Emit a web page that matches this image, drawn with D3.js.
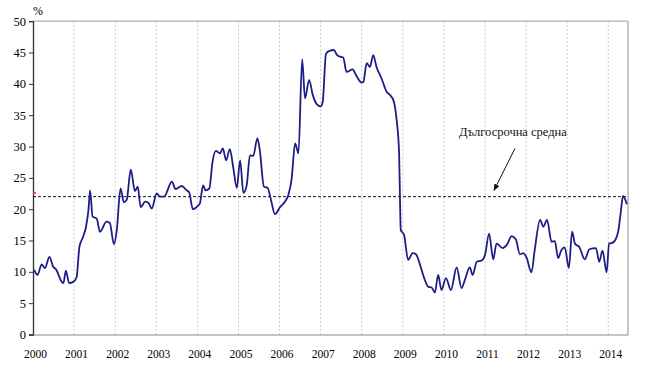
<!DOCTYPE html>
<html>
<head>
<meta charset="utf-8">
<script src="https://cdn.jsdelivr.net/npm/d3@7"></script>
<style>
  html, body { margin: 0; padding: 0; background: #fff; }
  svg { display: block; }
</style>
</head>
<body>
<svg id="chart" width="645" height="375"></svg>
<script>
// ---- data (decimal year, value in %) ----
const times = [
  2000.03, 2000.11, 2000.21, 2000.29, 2000.40, 2000.49, 2000.56, 2000.70, 2000.74, 2000.80,
  2000.88, 2000.98, 2001.06, 2001.13, 2001.22, 2001.29, 2001.35, 2001.39, 2001.45, 2001.55,
  2001.63, 2001.79, 2001.87, 2001.97, 2002.04, 2002.13, 2002.21, 2002.28, 2002.38, 2002.48,
  2002.55, 2002.62, 2002.73, 2002.81, 2002.89, 2003.01, 2003.09, 2003.19, 2003.38, 2003.47,
  2003.62, 2003.74, 2003.80, 2003.89, 2004.02, 2004.06, 2004.14, 2004.20, 2004.29, 2004.37,
  2004.45, 2004.55, 2004.62, 2004.70, 2004.79, 2004.87, 2004.96, 2005.04, 2005.12, 2005.20,
  2005.28, 2005.36, 2005.46, 2005.52, 2005.62, 2005.71, 2005.79, 2005.89, 2006.01, 2006.13,
  2006.21, 2006.29, 2006.38, 2006.46, 2006.55, 2006.62, 2006.72, 2006.81, 2006.90, 2007.00,
  2007.05, 2007.13, 2007.23, 2007.32, 2007.40, 2007.49, 2007.55, 2007.63, 2007.78, 2007.86,
  2008.00, 2008.04, 2008.12, 2008.20, 2008.28, 2008.36, 2008.48, 2008.61, 2008.69, 2008.77,
  2008.81, 2008.85, 2008.91, 2008.93, 2008.95, 2009.03, 2009.13, 2009.24, 2009.32, 2009.42,
  2009.51, 2009.62, 2009.70, 2009.78, 2009.86, 2009.94, 2010.05, 2010.17, 2010.31, 2010.43,
  2010.51, 2010.63, 2010.70, 2010.80, 2010.92, 2011.00, 2011.10, 2011.20, 2011.28, 2011.43,
  2011.53, 2011.65, 2011.75, 2011.85, 2011.93, 2012.01, 2012.13, 2012.21, 2012.34, 2012.42,
  2012.51, 2012.62, 2012.70, 2012.78, 2012.86, 2012.94, 2013.04, 2013.12, 2013.19, 2013.29,
  2013.43, 2013.54, 2013.70, 2013.78, 2013.86, 2013.96, 2014.02, 2014.12, 2014.24, 2014.30,
  2014.36, 2014.45
];
const values = [
  10.3, 9.5, 11.2, 10.6, 12.4, 10.8, 10.4, 8.4, 8.2, 10.2,
  8.2, 8.4, 9.1, 14.0, 15.6, 17.2, 19.9, 23.0, 18.8, 18.5,
  16.4, 18.0, 17.8, 14.4, 16.7, 23.3, 21.1, 21.5, 26.3, 22.9,
  23.6, 20.3, 21.2, 21.0, 20.1, 22.5, 22.0, 22.0, 24.4, 23.2,
  23.7, 23.0, 22.7, 20.0, 20.6, 20.9, 23.8, 23.0, 23.3, 27.6,
  29.3, 28.9, 29.7, 27.8, 29.6, 26.8, 23.4, 27.8, 22.6, 23.8,
  28.6, 28.5, 31.3, 29.4, 23.6, 23.4, 21.5, 19.2, 20.3, 21.2,
  22.2, 24.6, 30.5, 28.9, 43.9, 37.7, 40.6, 38.2, 36.8, 36.4,
  37.1, 44.8, 45.3, 45.4, 44.6, 44.3, 44.2, 41.9, 42.3, 41.4,
  40.2, 40.3, 43.3, 42.7, 44.6, 42.7, 40.9, 38.7, 38.2, 37.4,
  36.3, 34.2, 28.9, 22.0, 16.7, 15.9, 11.9, 13.0, 12.8, 11.1,
  9.2, 7.6, 7.5, 6.7, 9.5, 7.1, 9.0, 7.1, 10.7, 7.4,
  8.7, 10.7, 9.5, 11.6, 11.8, 12.7, 16.1, 12.0, 14.5, 13.8,
  14.3, 15.7, 15.2, 12.8, 13.0, 12.3, 9.9, 13.5, 18.3, 17.2,
  18.3, 14.8, 14.9, 12.2, 13.5, 13.9, 10.6, 16.4, 14.5, 14.0,
  12.0, 13.6, 13.8, 11.6, 13.4, 9.9, 14.5, 14.7, 16.4, 19.3,
  22.1, 20.8
];
const longTermMean = 22;
const meanMarker = 22.6;
const yTicks = [0, 5, 10, 15, 20, 25, 30, 35, 40, 45, 50];
const xTicks = [2000, 2001, 2002, 2003, 2004, 2005, 2006, 2007, 2008, 2009, 2010, 2011, 2012, 2013, 2014];
const unitLabel = "%";
const annotationText = "Дългосрочна средна";

// ---- layout ----
const svg = d3.select("#chart");
const plotL = 33, plotR = 628, plotT = 21.2, plotB = 334.5;
const x = d3.scaleLinear().domain([2000, 2014.48]).range([plotL, plotR]);
const y = d3.scaleLinear().domain([0, 50]).range([plotB, plotT]);
const tickFont = "'Liberation Serif', 'Times New Roman', serif";

// vertical dotted gridlines
svg.append("g").selectAll("line")
  .data(xTicks.filter(d => d > 2000))
  .join("line")
  .attr("x1", d => x(d)).attr("x2", d => x(d))
  .attr("y1", plotT).attr("y2", plotB)
  .attr("stroke", "#c9c9c9").attr("stroke-width", 1)
  .attr("stroke-dasharray", "2,2");

// top and right frame
svg.append("line").attr("x1", plotL).attr("x2", plotR).attr("y1", plotT).attr("y2", plotT)
  .attr("stroke", "#b0b0b0").attr("stroke-width", 1.2);
svg.append("line").attr("x1", plotR).attr("x2", plotR).attr("y1", plotT).attr("y2", plotB)
  .attr("stroke", "#a0a0a0").attr("stroke-width", 1.2);

// x axis
const xAxis = d3.axisBottom(x).tickValues(xTicks).tickSize(0).tickFormat(d3.format("d"));
const gx = svg.append("g").attr("transform", `translate(0,${plotB})`).call(xAxis);
gx.select(".domain").attr("stroke", "#8a8a8a").attr("stroke-width", 1.2);
gx.selectAll("text").attr("font-family", tickFont).attr("font-size", 11.5)
  .attr("fill", "#000").attr("dx", 2).attr("dy", 0).attr("y", 23.5);

// y axis
const yAxis = d3.axisLeft(y).tickValues(yTicks).tickSize(4).tickPadding(3).tickFormat(d3.format("d"));
const gy = svg.append("g").attr("transform", `translate(${plotL},0)`).call(yAxis);
gy.select(".domain").attr("stroke", "#333").attr("stroke-width", 1.3);
gy.selectAll(".tick line").attr("stroke", "#333");
gy.selectAll("text").attr("font-family", tickFont).attr("font-size", 12.5).attr("fill", "#000");

// unit label
svg.append("text").attr("x", plotL).attr("y", 15).text(unitLabel)
  .attr("font-family", tickFont).attr("font-size", 12).attr("fill", "#000");

// long-term mean dashed line
svg.append("line")
  .attr("x1", plotL).attr("x2", plotR)
  .attr("y1", y(longTermMean)).attr("y2", y(longTermMean))
  .attr("stroke", "#111").attr("stroke-width", 1).attr("stroke-dasharray", "3,2");

// small magenta marker on the axis
svg.append("line")
  .attr("x1", plotL).attr("x2", plotL + 3)
  .attr("y1", y(meanMarker)).attr("y2", y(meanMarker))
  .attr("stroke", "#e0209a").attr("stroke-width", 1.5);

// series line
const data = times.map((t, i) => ({ t, v: values[i] }));
const line = d3.line().x(d => x(d.t)).y(d => y(d.v)).curve(d3.curveMonotoneX);
svg.append("path").datum(data)
  .attr("d", line)
  .attr("fill", "none").attr("stroke", "#1d1d85").attr("stroke-width", 1.8)
  .attr("stroke-linejoin", "round");

// annotation
svg.append("text").attr("x", x(2011.68)).attr("y", y(31.7))
  .attr("text-anchor", "middle")
  .attr("font-family", tickFont).attr("font-size", 12.5).attr("fill", "#111")
  .text(annotationText);

svg.append("defs").append("marker")
  .attr("id", "arrow").attr("viewBox", "0 0 10 10")
  .attr("refX", 9).attr("refY", 5).attr("markerWidth", 7).attr("markerHeight", 7)
  .attr("orient", "auto-start-reverse")
  .append("path").attr("d", "M0,1 L10,5 L0,9 z").attr("fill", "#111");

svg.append("line")
  .attr("x1", x(2011.73)).attr("y1", y(29.7))
  .attr("x2", x(2011.22)).attr("y2", y(23.0))
  .attr("stroke", "#111").attr("stroke-width", 1)
  .attr("marker-end", "url(#arrow)");
</script>
</body>
</html>
